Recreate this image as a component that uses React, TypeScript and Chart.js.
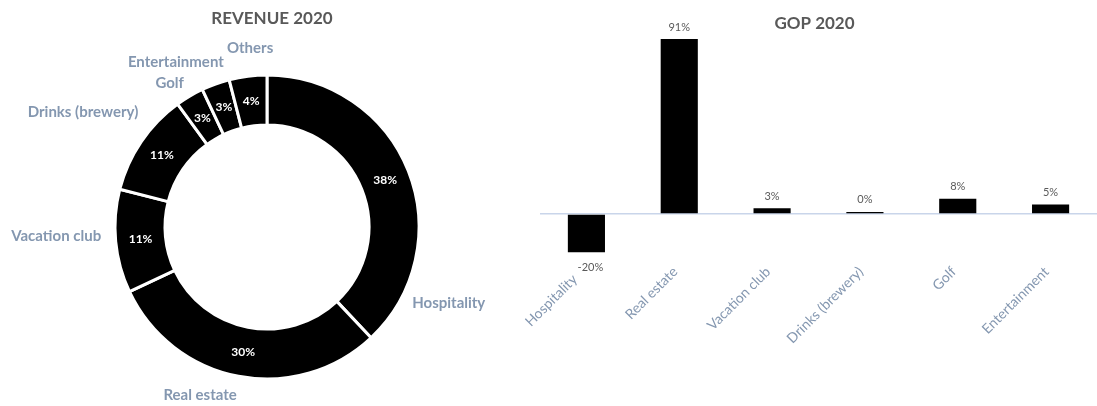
import React, { useEffect, useRef } from "react";
import { Chart, registerables } from "chart.js";

Chart.register(...registerables);

// ---------- Data ----------
const revenueCategories = [
  "Hospitality",
  "Real estate",
  "Vacation club",
  "Drinks (brewery)",
  "Golf",
  "Entertainment",
  "Others",
];
const revenueShares = [38, 30, 11, 11, 3, 3, 4];

const gopCategories = [
  "Hospitality",
  "Real estate",
  "Vacation club",
  "Drinks (brewery)",
  "Golf",
  "Entertainment",
];
const gopValues = [-20, 91, 3, 0.4, 8, 5];

const revenueTitle = "REVENUE 2020";
const gopTitle = "GOP 2020";

// ---------- Style / layout ----------
const FONT = "Lato, 'Open Sans', sans-serif";
const TITLE_COLOR = "#595959";
const LABEL_COLOR = "#8497B0";
const ZERO_LINE = "#C9D5EA";
// label placement relative to each slice's middle angle (degrees) and gap beyond outer radius (px)
const revenueLabelShiftDeg = [44.3, 10.9, 2.9, -2.2, -3.4, -9.2, 1.8];
const revenueLabelGap = [45, 29, 59, 65, 22, 36, 28];

const W = 1097;
const H = 406;

const donutPlugin = {
  id: "donutLabels",
  afterDatasetsDraw(chart: any) {
    const ctx = chart.ctx;
    const meta = chart.getDatasetMeta(0);
    ctx.save();
    ctx.textAlign = "center";
    ctx.textBaseline = "middle";
    meta.data.forEach((arc: any, i: number) => {
      const p = arc.getProps(
        ["x", "y", "startAngle", "endAngle", "innerRadius", "outerRadius"],
        true
      );
      const mid = (p.startAngle + p.endAngle) / 2;
      const rMid = (p.innerRadius + p.outerRadius) / 2;
      ctx.fillStyle = "#ffffff";
      ctx.font = `bold 12px ${FONT}`;
      ctx.fillText(
        `${revenueShares[i]}%`,
        p.x + Math.cos(mid) * rMid,
        p.y + Math.sin(mid) * rMid
      );
      const a = mid + (revenueLabelShiftDeg[i] * Math.PI) / 180;
      const r = p.outerRadius + revenueLabelGap[i];
      ctx.fillStyle = LABEL_COLOR;
      ctx.font = `bold 15px ${FONT}`;
      ctx.fillText(revenueCategories[i], p.x + Math.cos(a) * r, p.y + Math.sin(a) * r);
    });
    const ca = chart.chartArea;
    ctx.fillStyle = TITLE_COLOR;
    ctx.font = `bold 17px ${FONT}`;
    ctx.fillText(revenueTitle, (ca.left + ca.right) / 2 + 5, 19);
    ctx.restore();
  },
};

const barPlugin = {
  id: "barLabels",
  afterDatasetsDraw(chart: any) {
    const ctx = chart.ctx;
    const meta = chart.getDatasetMeta(0);
    ctx.save();
    ctx.textAlign = "center";
    ctx.textBaseline = "middle";
    ctx.fillStyle = TITLE_COLOR;
    ctx.font = `11px ${FONT}`;
    meta.data.forEach((bar: any, i: number) => {
      const v = gopValues[i];
      const { x, y } = bar.getProps(["x", "y"], true);
      const ly = v >= 0 ? Math.min(y, bar.base - 2) - 12 : y + 14.5;
      ctx.fillText(`${Math.round(v)}%`, x + (v < 0 ? 4 : 0), ly);
    });
    const ca = chart.chartArea;
    ctx.font = `bold 17px ${FONT}`;
    ctx.fillText(gopTitle, (ca.left + ca.right) / 2 - 4, 24);
    ctx.restore();
  },
};

export default function App() {
  const donutRef = useRef<HTMLCanvasElement>(null);
  const barRef = useRef<HTMLCanvasElement>(null);

  useEffect(() => {
    document.body.style.margin = "0";
    const donut = new Chart(donutRef.current as HTMLCanvasElement, {
      type: "doughnut",
      data: {
        labels: revenueCategories,
        datasets: [
          {
            data: revenueShares,
            backgroundColor: "#000000",
            borderColor: "#ffffff",
            borderWidth: 3,
          },
        ],
      },
      options: {
        responsive: false,
        animation: false,
        radius: 152,
        cutout: 101,
        layout: { padding: { left: 115, right: 81, top: 75, bottom: 27 } },
        plugins: { legend: { display: false }, tooltip: { enabled: false } },
      } as any,
      plugins: [donutPlugin],
    });

    const bar = new Chart(barRef.current as HTMLCanvasElement, {
      type: "bar",
      data: {
        labels: gopCategories,
        datasets: [
          {
            data: gopValues,
            backgroundColor: "#000000",
            barPercentage: 0.4,
            categoryPercentage: 1,
            minBarLength: 2,
          },
        ],
      },
      options: {
        responsive: false,
        animation: false,
        layout: { padding: { top: 39, left: 40, right: 0, bottom: 0 } },
        plugins: { legend: { display: false }, tooltip: { enabled: false } },
        scales: {
          x: {
            grid: { display: false },
            border: { display: false },
            ticks: {
              color: LABEL_COLOR,
              font: { family: FONT, size: 14 },
              minRotation: 45,
              maxRotation: 45,
              autoSkip: false,
              padding: 3,
              labelOffset: -4,
              // labels under negative bars are pushed further out so they clear the value label
              callback: (_v: any, i: number) =>
                gopValues[i] < 0 ? gopCategories[i] + "   " : gopCategories[i],
            },
            afterFit: (s: any) => {
              s.height = 153.5;
            },
          },
          y: {
            min: -20,
            max: 91,
            ticks: { display: false, stepSize: 10 },
            border: { display: false },
            grid: {
              drawTicks: false,
              lineWidth: 1.5,
              color: (c: any) => (c.tick && c.tick.value === 0 ? ZERO_LINE : "rgba(0,0,0,0)"),
            },
            afterFit: (s: any) => {
              s.width = 0;
            },
          },
        },
      } as any,
      plugins: [barPlugin],
    });

    return () => {
      donut.destroy();
      bar.destroy();
    };
  }, []);

  return (
    <div style={{ position: "relative", width: W, height: H, background: "#fff" }}>
      <canvas
        ref={donutRef}
        width={500}
        height={H}
        style={{ position: "absolute", left: 0, top: 0 }}
      />
      <canvas
        ref={barRef}
        width={597}
        height={H}
        style={{ position: "absolute", left: 500, top: 0 }}
      />
    </div>
  );
}
